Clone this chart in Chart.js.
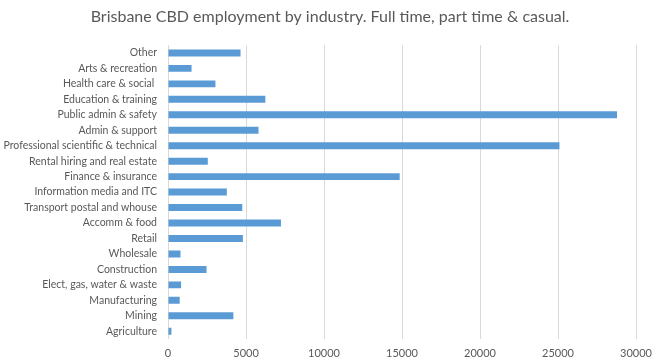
<!DOCTYPE html>
<html>
<head>
<meta charset="utf-8">
<script src="https://cdn.jsdelivr.net/npm/chart.js@4"></script>
<style>
  body { margin: 0; background: #fff; }
  #wrap { width: 660px; height: 360px; }
</style>
</head>
<body>
<div id="wrap"><canvas id="industryChart"></canvas></div>
<script>
// industries, top of chart first
const industries = [
    'Other', 'Arts & recreation', 'Health care & social ', 'Education & training',
    'Public admin & safety', 'Admin & support', 'Professional scientific & technical',
    'Rental hiring and real estate', 'Finance & insurance', 'Information media and ITC',
    'Transport postal and whouse', 'Accomm & food', 'Retail', 'Wholesale', 'Construction',
    'Elect, gas, water & waste', 'Manufacturing', 'Mining', 'Agriculture'
]
const employment = [
    4650, 1510, 3040, 6240, 28780, 5800, 25090, 2550, 14850, 3770,
    4760, 7240, 4800, 800, 2470, 840, 750, 4190, 220
]
const xMax = 30000
const xStep = 5000

const textGrey = '#595959'
const ctx = document.getElementById('industryChart').getContext('2d')
new Chart(ctx, {
    type: 'bar',
    data: {
        labels: industries,
        datasets: [{
            label: 'Employment',
            data: employment,
            backgroundColor: '#5b9bd5',
            borderWidth: 0,
            categoryPercentage: 1,
            barPercentage: 0.45
        }]
    },
    options: {
        indexAxis: 'y',
        responsive: true,
        maintainAspectRatio: false,
        animation: false,
        layout: { padding: 0 },
        plugins: {
            legend: { display: false },
            tooltip: { enabled: false },
            title: {
                display: true,
                text: 'Brisbane CBD employment by industry. Full time, part time & casual.',
                color: textGrey,
                font: { family: 'Lato', size: 16, weight: 'normal' },
                padding: { top: 7, bottom: 19 }
            }
        },
        scales: {
            x: {
                min: 0,
                max: xMax,
                ticks: {
                    stepSize: xStep,
                    color: textGrey,
                    font: { family: 'Lato', size: 11 },
                    padding: 8,
                    callback: (v) => String(v)
                },
                grid: { color: '#d9d9d9', drawTicks: false },
                border: { display: false },
                afterFit: (scale) => { scale.height = 21 }
            },
            y: {
                ticks: {
                    color: textGrey,
                    font: { family: 'Lato', size: 10.5 },
                    padding: 11,
                    autoSkip: false
                },
                grid: { display: false, drawTicks: false },
                border: { display: false },
                afterFit: (scale) => { scale.width = 168 }
            },
            // empty spacer on the right so the title stays centred on the page
            spacer: {
                type: 'linear',
                position: 'right',
                ticks: { display: false },
                grid: { display: false, drawTicks: false },
                border: { display: false },
                afterFit: (scale) => { scale.width = 20 }
            }
        }
    }
})
</script>
</body>
</html>
